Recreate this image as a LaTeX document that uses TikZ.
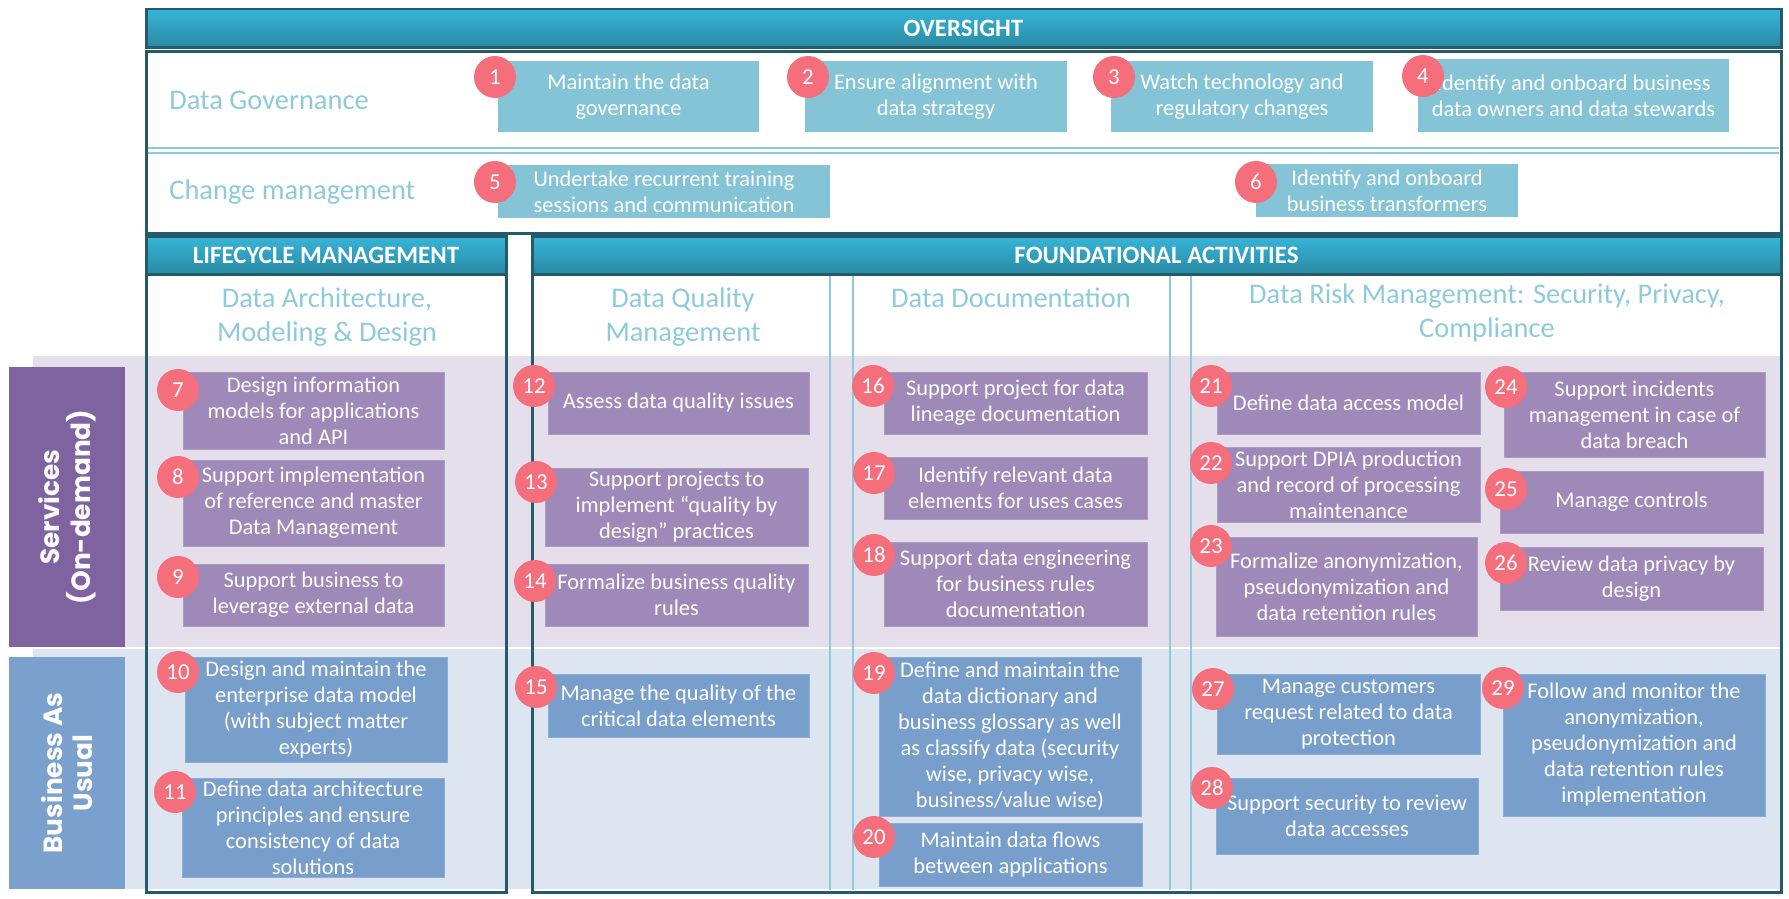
\documentclass[tikz,border=0pt]{standalone}
\usepackage{fontspec}
\setmainfont{Carlito}
\newfontfamily\sidefont{Poppins}
\usepackage{tikz}
\definecolor{dkteal}{HTML}{235B6B}
\definecolor{hdrtop}{HTML}{37B5D9}
\definecolor{hdrbot}{HTML}{2A8AA3}
\definecolor{lblue}{HTML}{8DCBDC}
\definecolor{govfill}{HTML}{84C4D6}
\definecolor{svcfill}{HTML}{9E89B8}
\definecolor{baufill}{HTML}{789ECB}
\definecolor{svcband}{HTML}{E5DFEC}
\definecolor{bauband}{HTML}{DCE5F0}
\definecolor{svclabel}{HTML}{7F62A0}
\definecolor{baulabel}{HTML}{7AA0CD}
\definecolor{badgered}{HTML}{F46E7C}
\tikzset{
	hdrbar/.style = {draw=dkteal, line width=0.06cm, top color=hdrtop, bottom color=hdrbot,
		text=white, inner sep=0pt, font=\fontsize{14.2}{17}\selectfont\bfseries},
	frame/.style = {draw=dkteal, line width=0.06cm},
	colline/.style = {draw=lblue, line width=0.04cm},
	area/.style = {text=lblue, inner sep=0pt, align=center, font=\fontsize{16.2}{19.8}\selectfont},
	actbox/.style = {text=white, inner sep=0pt, align=center, font=\fontsize{12.75}{14.8}\selectfont},
	govbox/.style = {actbox, fill=govfill},
	svcbox/.style = {actbox, fill=svcfill, draw=svcfill!85!white, line width=0.5pt},
	baubox/.style = {actbox, fill=baufill, draw=baufill!85!white, line width=0.5pt},
	badge/.style = {circle, fill=badgered, text=white, minimum size=0.84cm, inner sep=0pt,
		font=\fontsize{13}{15}\selectfont},
	rowlabel/.style = {text=white, rotate=90, align=center, inner sep=0pt,
		font=\sidefont\bfseries\fontsize{15}{17.5}\selectfont}
}
% box from its corners (in px): name, style, x1, y1, x2, y2, text
\newcommand\actnode[7]{%
	\node[#2, minimum width={(#5-#3)*0.02cm}, minimum height={(#6-#4)*0.02cm}] (#1) at ({(#3+#5)/2},{(#4+#6)/2}) {#7};}
\newcommand\badgeat[3]{\node[badge] (b#1) at (#2,#3) {#1};}

\begin{document}
\begin{tikzpicture}[x=0.02cm, y=-0.02cm]
\useasboundingbox (0,0) rectangle (1789,899);
%----------------------------------------------------------------------------
% Bands and row labels
\fill[svcband] (33,356) rectangle (1783,647);
\fill[bauband] (33,649) rectangle (1783,889);
\node[rowlabel, fill=svclabel, minimum width={280*0.02cm}, minimum height={116*0.02cm}] (services) at (67,507) {Services\\(On-demand)};
\node[rowlabel, fill=baulabel, minimum width={232*0.02cm}, minimum height={116*0.02cm}] (bau) at (67,773) {Business As\\Usual};

%----------------------------------------------------------------------------
% Frames
\draw[frame] (146,274) rectangle (506,892);
\draw[frame] (532,274) rectangle (1781,892);
\foreach \x in {830,853,1170,1191}
	\draw[colline] (\x,276) -- (\x,890);
\draw[frame, fill=white] (146,51) rectangle (1781,233);
\draw[colline] (148,148) -- (1779,148);
\draw[colline] (148,153) -- (1779,153);

%----------------------------------------------------------------------------
% Header bars
\node[hdrbar, minimum width={1635*0.02cm}, minimum height={38*0.02cm}] (oversight) at (963.5,28) {OVERSIGHT};
\node[hdrbar, minimum width={360*0.02cm}, minimum height={38*0.02cm}] (lifecycle) at (326,255) {LIFECYCLE MANAGEMENT};
\node[hdrbar, minimum width={1249*0.02cm}, minimum height={38*0.02cm}] (foundation) at (1156.5,255) {FOUNDATIONAL ACTIVITIES};

%----------------------------------------------------------------------------
% Area titles
\node[area, anchor=west] (govHead) at (169,100) {Data Governance};
\node[area, anchor=west] (changeHead) at (169,192) {Change management};
\node[area] (archHead) at (327,317) {Data Architecture,\\Modeling \& Design};
\node[area] (qualityHead) at (683,317) {Data Quality\\Management};
\node[area] (docHead) at (1011,298) {Data Documentation};
\node[area] (riskHead) at (1487,313) {Data Risk Management: Security, Privacy,\\Compliance};

%----------------------------------------------------------------------------
% Oversight activities
\actnode{maintainGov}{govbox}{498}{61}{759}{132}{Maintain the data\\governance}
\actnode{alignStrategy}{govbox}{805}{61}{1067}{132}{Ensure alignment with\\data strategy}
\actnode{watchTech}{govbox}{1111}{61}{1373}{132}{Watch technology and\\regulatory changes}
\actnode{onboardOwners}{govbox}{1418}{59}{1729}{132}{Identify and onboard business\\data owners and data stewards}
\actnode{training}{govbox}{498}{165}{830}{218}{Undertake recurrent training\\sessions and communication}
\actnode{onboardTransf}{govbox}{1256}{164}{1518}{217}{Identify and onboard\\business transformers}

% Services (on-demand)
\actnode{infoModels}{svcbox}{183}{372}{444}{449}{Design information\\models for applications\\and API}
\actnode{refMaster}{svcbox}{183}{460}{444}{546}{Support implementation\\of reference and master\\Data Management}
\actnode{extData}{svcbox}{183}{564}{444}{626}{Support business to\\leverage external data}
\actnode{assessDQ}{svcbox}{548}{372}{809}{434}{Assess data quality issues}
\actnode{qualDesign}{svcbox}{545}{468}{808}{546}{Support projects to\\implement “quality by\\design” practices}
\actnode{bizRules}{svcbox}{545}{564}{808}{626}{Formalize business quality\\rules}
\actnode{lineage}{svcbox}{884}{372}{1147}{434}{Support project for data\\lineage documentation}
\actnode{relevantDE}{svcbox}{884}{457}{1147}{519}{Identify relevant data\\elements for uses cases}
\actnode{dataEng}{svcbox}{884}{542}{1147}{626}{Support data engineering\\for business rules\\documentation}
\actnode{accessModel}{svcbox}{1217}{372}{1480}{434}{Define data access model}
\actnode{dpia}{svcbox}{1217}{447}{1480}{522}{Support DPIA production\\and record of processing\\maintenance}
\actnode{anonRules}{svcbox}{1216}{537}{1477}{636}{Formalize anonymization,\\pseudonymization and\\data retention rules}
\actnode{incidents}{svcbox}{1504}{372}{1765}{457}{Support incidents\\management in case of\\data breach}
\actnode{controls}{svcbox}{1500}{471}{1763}{533}{Manage controls}
\actnode{privacyDesign}{svcbox}{1500}{547}{1763}{610}{Review data privacy by\\design}

% Business as usual
\actnode{entModel}{baubox}{185}{657}{447}{762}{Design and maintain the\\enterprise data model\\(with subject matter\\experts)}
\actnode{archPrinc}{baubox}{182}{778}{444}{877}{Define data architecture\\principles and ensure\\consistency of data\\solutions}
\actnode{criticalDE}{baubox}{548}{674}{809}{737}{Manage the quality of the\\critical data elements}
\actnode{dictionary}{baubox}{879}{657}{1141}{816}{Define and maintain the\\data dictionary and\\business glossary as well\\as classify data (security\\wise, privacy wise,\\business/value wise)}
\actnode{dataFlows}{baubox}{879}{823}{1142}{886}{Maintain data flows\\between applications}
\actnode{custRequest}{baubox}{1217}{674}{1480}{754}{Manage customers\\request related to data\\protection}
\actnode{reviewAccess}{baubox}{1216}{778}{1478}{854}{Support security to review\\data accesses}
\actnode{monitorRules}{baubox}{1503}{674}{1765}{816}{Follow and monitor the\\anonymization,\\pseudonymization and\\data retention rules\\implementation}

%----------------------------------------------------------------------------
% Number badges
\badgeat{1}{495}{77}   \badgeat{2}{808}{77}   \badgeat{3}{1114}{77}
\badgeat{4}{1423}{76}  \badgeat{5}{495}{182}  \badgeat{6}{1256}{182}
\badgeat{7}{178}{390}  \badgeat{8}{178}{477}  \badgeat{9}{178}{577}
\badgeat{10}{178}{672} \badgeat{11}{175}{792}
\badgeat{12}{534}{386} \badgeat{13}{536}{482} \badgeat{14}{535}{581}
\badgeat{15}{536}{687}
\badgeat{16}{873}{386} \badgeat{17}{874}{473} \badgeat{18}{874}{555}
\badgeat{19}{874}{673} \badgeat{20}{874}{837}
\badgeat{21}{1211}{386} \badgeat{22}{1211}{463} \badgeat{23}{1211}{546}
\badgeat{24}{1506}{387} \badgeat{25}{1506}{489} \badgeat{26}{1506}{563}
\badgeat{27}{1213}{689} \badgeat{28}{1212}{788} \badgeat{29}{1503}{688}

\end{tikzpicture}
\end{document}
